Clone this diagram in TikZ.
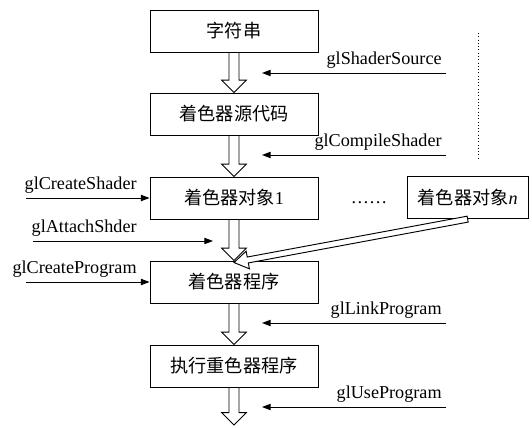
\documentclass[tikz,border=0pt]{standalone}
\usepackage{fontspec}
\setmainfont{Liberation Serif}
\newfontfamily\cjk{Noto Sans CJK SC}
\usepackage{tikz}
\usetikzlibrary{arrows.meta,positioning,calc}

% hollow block arrow: from, to, half shaft width, half head width, head length
\newcommand{\blockarrow}[5]{%
  \coordinate (ba-base) at ($(#2)!#5!(#1)$);
  \draw[fill=white] ($(#1)!#3!90:(#2)$) -- ($(ba-base)!#3!-90:(#1)$)
    -- ($(ba-base)!#4!-90:(#1)$) -- (#2) -- ($(ba-base)!#4!90:(#1)$)
    -- ($(ba-base)!#3!90:(#1)$) -- ($(#1)!#3!-90:(#2)$) -- cycle;}

\begin{document}
\begin{tikzpicture}[
    line width=0.8pt,
    stage/.style={rectangle, draw, minimum width=5.04cm, minimum height=1.26cm, align=center, font=\fontsize{15.5}{18}\selectfont\cjk},
    call/.style={-{Triangle[length=2.6mm, width=1.9mm]}},
    lab/.style={font=\fontsize{15.5}{18}\selectfont}
]
    \useasboundingbox (0,0) rectangle (15.96,-12.81);

    % Main column
    \node[stage] (str) at (7.02, -0.93) {字符串};
    \node[stage] (src) at (7.02, -3.42) {着色器源代码};
    \node[stage] (obj1) at (7.02, -5.94) {着色器对象{\rmfamily 1}};
    \node[stage] (prog) at (7.02, -8.46) {着色器程序};
    \node[stage] (run) at (7.02, -10.98) {执行重色器程序};

    % Other shader objects
    \node[anchor=base, lab] (dots) at (11.07, -6.09) {……};
    \node[stage, minimum width=3.63cm] (objn) at (14.03, -5.93) {着色器对象{\rmfamily\itshape n}};
    \coordinate (dtop) at (14.34, -0.99);
    \coordinate (dbot) at (14.34, -4.8);
    \draw[dotted] (dtop) -- (dbot);

    % Flow between stages
    \blockarrow{str.south}{src.north}{0.15cm}{0.37cm}{0.37cm}
    \blockarrow{src.south}{obj1.north}{0.15cm}{0.37cm}{0.37cm}
    \blockarrow{obj1.south}{prog.north}{0.15cm}{0.37cm}{0.37cm}
    \blockarrow{prog.south}{run.north}{0.15cm}{0.37cm}{0.37cm}
    \coordinate (out) at (7.02, -12.75);
    \blockarrow{run.south}{out}{0.15cm}{0.37cm}{0.37cm}
    \coordinate (join) at ($(prog.north)+(0,-0.06)$);
    \blockarrow{objn.south}{join}{0.09cm}{0.27cm}{0.42cm}

    % Calls on the right
    \coordinate (ss) at (13.38, -2.19);
    \coordinate (sse) at (7.86, -2.19);
    \coordinate (cs) at (13.38, -4.65);
    \coordinate (cse) at (7.86, -4.65);
    \coordinate (lp) at (13.38, -9.69);
    \coordinate (lpe) at (7.86, -9.69);
    \coordinate (up) at (13.38, -12.21);
    \coordinate (upe) at (7.86, -12.21);
    \draw[call] (ss) node[lab, above left] (ssl) {glShaderSource} -- (sse);
    \draw[call] (cs) node[lab, above left] (csl) {glCompileShader} -- (cse);
    \draw[call] (lp) node[lab, above left] (lpl) {glLinkProgram} -- (lpe);
    \draw[call] (up) node[lab, above left] (upl) {glUseProgram} -- (upe);

    % Calls on the left
    \coordinate (crs) at (0.78, -5.94);
    \coordinate (att) at (0.99, -7.23);
    \coordinate (atte) at (6.39, -7.23);
    \coordinate (crp) at (0.78, -8.46);
    \node[lab, anchor=south east] (crsl) at (4.23, -5.94) {glCreateShader};
    \node[lab, anchor=south east] (attl) at (4.23, -7.23) {glAttachShder};
    \node[lab, anchor=south east] (crpl) at (4.23, -8.46) {glCreateProgram};
    \draw[call] (crs) -- (obj1.west);
    \draw[call] (att) -- (atte);
    \draw[call] (crp) -- (prog.west);
\end{tikzpicture}
\end{document}
